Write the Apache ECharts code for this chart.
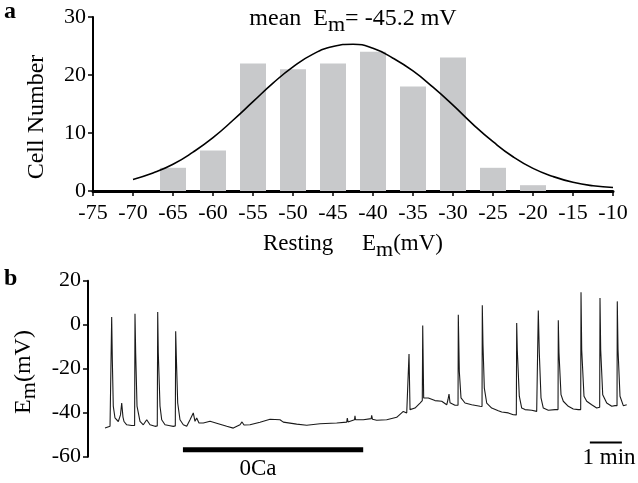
<!DOCTYPE html>
<html>
<head>
<meta charset="utf-8">
<script src="https://cdn.jsdelivr.net/npm/echarts@6/dist/echarts.min.js"></script>
<style>html,body{margin:0;padding:0;background:#fff}#c{width:638px;height:483px}</style>
</head>
<body>
<div id="c"></div>
<script>
// Panel a: histogram of resting membrane potential
var binCenters = [-65, -60, -55, -50, -45, -40, -35, -30, -25, -20];
var cellCounts = [4, 7, 22, 21, 22, 24, 18, 23, 4, 1];
// Gaussian fit curve
var fitX = [-70, -67.5, -65, -62.5, -60, -57.5, -55, -52.5, -50, -47.5, -45, -42.5, -40, -37.5, -35, -32.5, -30, -27.5, -25, -22.5, -20, -17.5, -15, -12.5, -10];
var fitY = [2.0, 3.1, 4.6, 6.7, 9.2, 12.2, 15.4, 18.6, 21.4, 23.6, 24.9, 25.3, 24.6, 22.9, 20.7, 17.9, 14.8, 11.5, 8.5, 5.9, 3.9, 2.5, 1.5, 0.9, 0.6];
var xTicksA = [-75, -70, -65, -60, -55, -50, -45, -40, -35, -30, -25, -20, -15, -10];
var yTicksA = [0, 10, 20, 30];

// Panel b: membrane potential trace (time in s, Em in mV)
var traceT = [31.9, 41.3, 43.7, 44.4, 45.6, 47.4, 50.6, 56.8, 60.9, 63.2, 65.6, 67.5, 72.6, 81.9, 87.4, 88.1, 89.4, 91.9, 97.5, 103.7, 110.1, 116.3, 125.6, 129.9, 130.7, 131.8, 135.0, 138.2, 144.4, 153.8, 159.9, 163.7, 164.4, 165.6, 168.2, 172.5, 178.7, 185.1, 191.3, 194.4, 197.4, 200.6, 203.8, 208.1, 216.2, 228.8, 244.3, 260.1, 272.4, 285.0, 288.8, 292.5, 303.8, 322.5, 341.3, 360.0, 366.2, 391.3, 410.1, 435.0, 466.3, 485.1, 486.2, 487.5, 499.7, 500.6, 501.6, 516.2, 531.0, 531.9, 533.4, 541.3, 560.1, 578.8, 591.2, 597.6, 601.1, 601.9, 603.8, 613.1, 622.5, 626.8, 627.6, 629.4, 638.1, 650.6, 663.2, 672.6, 675.0, 676.9, 678.8, 680.6, 688.1, 693.8, 694.3, 696.2, 699.4, 706.9, 719.4, 735.0, 738.8, 739.3, 740.6, 743.1, 747.6, 756.9, 769.3, 775.7, 788.1, 797.4, 803.1, 803.8, 804.9, 808.7, 813.2, 819.4, 831.9, 841.3, 843.8, 844.3, 846.2, 849.4, 853.7, 863.1, 875.6, 881.3, 881.8, 883.1, 886.9, 891.2, 900.6, 909.9, 919.3, 923.8, 924.4, 925.7, 930.0, 935.1, 944.4, 953.8, 959.4, 960.0, 961.3, 965.1, 972.6, 982.0, 988.1, 991.9, 992.4, 993.8, 997.5, 1003.7, 1010.1];
var traceV = [-47.0, -46.2, -45.5, 3.5, -15.9, -37.0, -42.4, -44.0, -41.0, -35.6, -42.0, -44.0, -45.5, -45.8, -45.8, 5.0, -12.9, -37.0, -43.9, -45.5, -43.2, -45.5, -46.2, -46.0, 5.8, -12.9, -37.0, -43.2, -45.5, -45.9, -46.2, -46.0, -3.0, -14.4, -35.6, -43.2, -45.5, -46.2, -43.2, -43.9, -40.1, -43.9, -42.4, -44.7, -44.7, -43.9, -45.0, -46.2, -47.0, -45.5, -44.2, -45.6, -45.5, -44.3, -43.0, -43.2, -44.3, -45.2, -45.7, -45.0, -44.7, -44.3, -42.4, -44.2, -43.2, -41.4, -43.2, -43.2, -42.7, -41.2, -43.0, -43.4, -43.2, -42.1, -39.4, -40.1, -39.5, -13.3, -38.6, -37.9, -35.6, -34.5, -0.4, -33.3, -33.3, -34.5, -34.8, -36.4, -34.0, -31.5, -35.5, -36.4, -36.6, -36.6, 4.5, -21.2, -33.3, -35.6, -36.4, -37.1, -37.2, 8.8, -9.1, -28.8, -35.6, -37.9, -39.1, -39.7, -40.1, -40.9, -41.0, 0.8, -11.4, -32.5, -37.9, -38.6, -38.9, -39.4, -39.4, 6.5, -12.9, -33.3, -37.9, -38.9, -38.6, -38.6, 2.0, -12.9, -31.8, -34.8, -37.1, -38.3, -38.6, -38.6, 14.7, -11.4, -32.5, -34.8, -36.4, -37.9, -37.5, 12.1, -11.4, -31.8, -35.6, -37.1, -36.8, -36.8, 10.6, -11.4, -32.5, -36.8, -36.4];
var yTicksB = [-60, -40, -20, 0, 20];
var zeroCaT = [178, 516];   // 0Ca application period (s)
var zeroCaV = -56.8;
var scaleBarT = [941, 1001]; // 1 min scale bar (s)
var scaleBarV = -53.5;

var FONT = '"Liberation Serif", "DejaVu Serif", serif';

var barData = binCenters.map(function (x, i) { return [x, cellCounts[i]]; });
var fitData = fitX.map(function (x, i) { return [x, fitY[i]]; });
var traceData = traceT.map(function (t, i) { return [t, traceV[i]]; });

var chart = echarts.init(document.getElementById('c'), null, {renderer: 'canvas'});
chart.setOption({
  animation: false,
  backgroundColor: '#fff',
  grid: [
    {left: 93, top: 17, width: 520, height: 174},
    {left: 88, top: 280.7, width: 544, height: 176}
  ],
  xAxis: [
    {
      gridIndex: 0, type: 'value', min: -75, max: -10, interval: 5,
      axisLine: {show: true, onZero: false, lineStyle: {color: '#000', width: 3}},
      axisTick: {show: true, length: 5, lineStyle: {color: '#000', width: 1.5}},
      axisLabel: {color: '#000', fontFamily: FONT, fontSize: 22, margin: 11,
        formatter: function (v) { return xTicksA.indexOf(v) >= 0 ? String(v) : ''; }},
      splitLine: {show: false}
    },
    {
      gridIndex: 1, type: 'value', min: 0, max: 1020, show: false
    }
  ],
  yAxis: [
    {
      gridIndex: 0, type: 'value', min: 0, max: 30, interval: 10,
      axisLine: {show: true, lineStyle: {color: '#000', width: 2}},
      axisTick: {show: true, length: 5, lineStyle: {color: '#000', width: 1.5}},
      axisLabel: {color: '#000', fontFamily: FONT, fontSize: 22, margin: 7,
        formatter: function (v) { return yTicksA.indexOf(v) >= 0 ? String(v) : ''; }},
      splitLine: {show: false}
    },
    {
      gridIndex: 1, type: 'value', min: -60, max: 20, interval: 20,
      axisLine: {show: true, lineStyle: {color: '#000', width: 2}},
      axisTick: {show: true, length: 5, lineStyle: {color: '#000', width: 1.5}},
      axisLabel: {color: '#000', fontFamily: FONT, fontSize: 22, margin: 7,
        formatter: function (v) { return yTicksB.indexOf(v) >= 0 ? String(v) : ''; }},
      splitLine: {show: false}
    }
  ],
  series: [
    {
      type: 'bar', xAxisIndex: 0, yAxisIndex: 0, data: barData,
      barWidth: 26, itemStyle: {color: '#c8c9cb'}, z: 1
    },
    {
      type: 'line', xAxisIndex: 0, yAxisIndex: 0, data: fitData, smooth: true,
      showSymbol: false, lineStyle: {color: '#000', width: 1.6}, z: 3
    },
    {
      type: 'line', xAxisIndex: 1, yAxisIndex: 1, data: traceData,
      showSymbol: false, lineStyle: {color: '#1a1a1a', width: 1.1}, z: 3
    },
    {
      type: 'line', xAxisIndex: 1, yAxisIndex: 1,
      data: [[zeroCaT[0], zeroCaV], [zeroCaT[1], zeroCaV]],
      showSymbol: false, lineStyle: {color: '#000', width: 5, cap: 'butt'}
    },
    {
      type: 'line', xAxisIndex: 1, yAxisIndex: 1,
      data: [[scaleBarT[0], scaleBarV], [scaleBarT[1], scaleBarV]],
      showSymbol: false, lineStyle: {color: '#000', width: 2, cap: 'butt'}
    }
  ],
  graphic: [
    {type: 'text', left: 4, top: 0, style: {text: 'a', font: 'bold 24px ' + FONT, fill: '#000'}},
    {type: 'text', left: 4, top: 267, style: {text: 'b', font: 'bold 24px ' + FONT, fill: '#000'}},
    {type: 'text', x: 37, y: 117, rotation: Math.PI / 2,
      style: {text: 'Cell Number', font: '24px ' + FONT, fill: '#000', align: 'center', verticalAlign: 'middle'}},
    {type: 'text', x: 24, y: 372, rotation: Math.PI / 2,
      style: {
        text: '{e|E}{s|m}{e|(mV)}', align: 'center', verticalAlign: 'middle',
        rich: {
          e: {font: '24px ' + FONT, fill: '#000'},
          s: {font: '22px ' + FONT, fill: '#000', padding: [10, 0, 0, 0]}
        }
      }},
    {type: 'text', x: 353, y: 244,
      style: {
        text: '{e|Resting     E}{s|m}{e|(mV)}', align: 'center', verticalAlign: 'middle',
        rich: {
          e: {font: '23px ' + FONT, fill: '#000'},
          s: {font: '22px ' + FONT, fill: '#000', padding: [12, 0, 0, 0]}
        }
      }},
    {type: 'text', x: 353, y: 19,
      style: {
        text: '{e|mean  E}{s|m}{e|= -45.2 mV}', align: 'center', verticalAlign: 'middle',
        rich: {
          e: {font: '24px ' + FONT, fill: '#000'},
          s: {font: '22px ' + FONT, fill: '#000', padding: [12, 0, 0, 0]}
        }
      }},
    {type: 'text', x: 258, y: 469, style: {text: '0Ca', font: '23px ' + FONT, fill: '#000', align: 'center', verticalAlign: 'middle'}},
    {type: 'text', x: 609, y: 458, style: {text: '1 min', font: '23px ' + FONT, fill: '#000', align: 'center', verticalAlign: 'middle'}}
  ]
});
</script>
</body>
</html>
